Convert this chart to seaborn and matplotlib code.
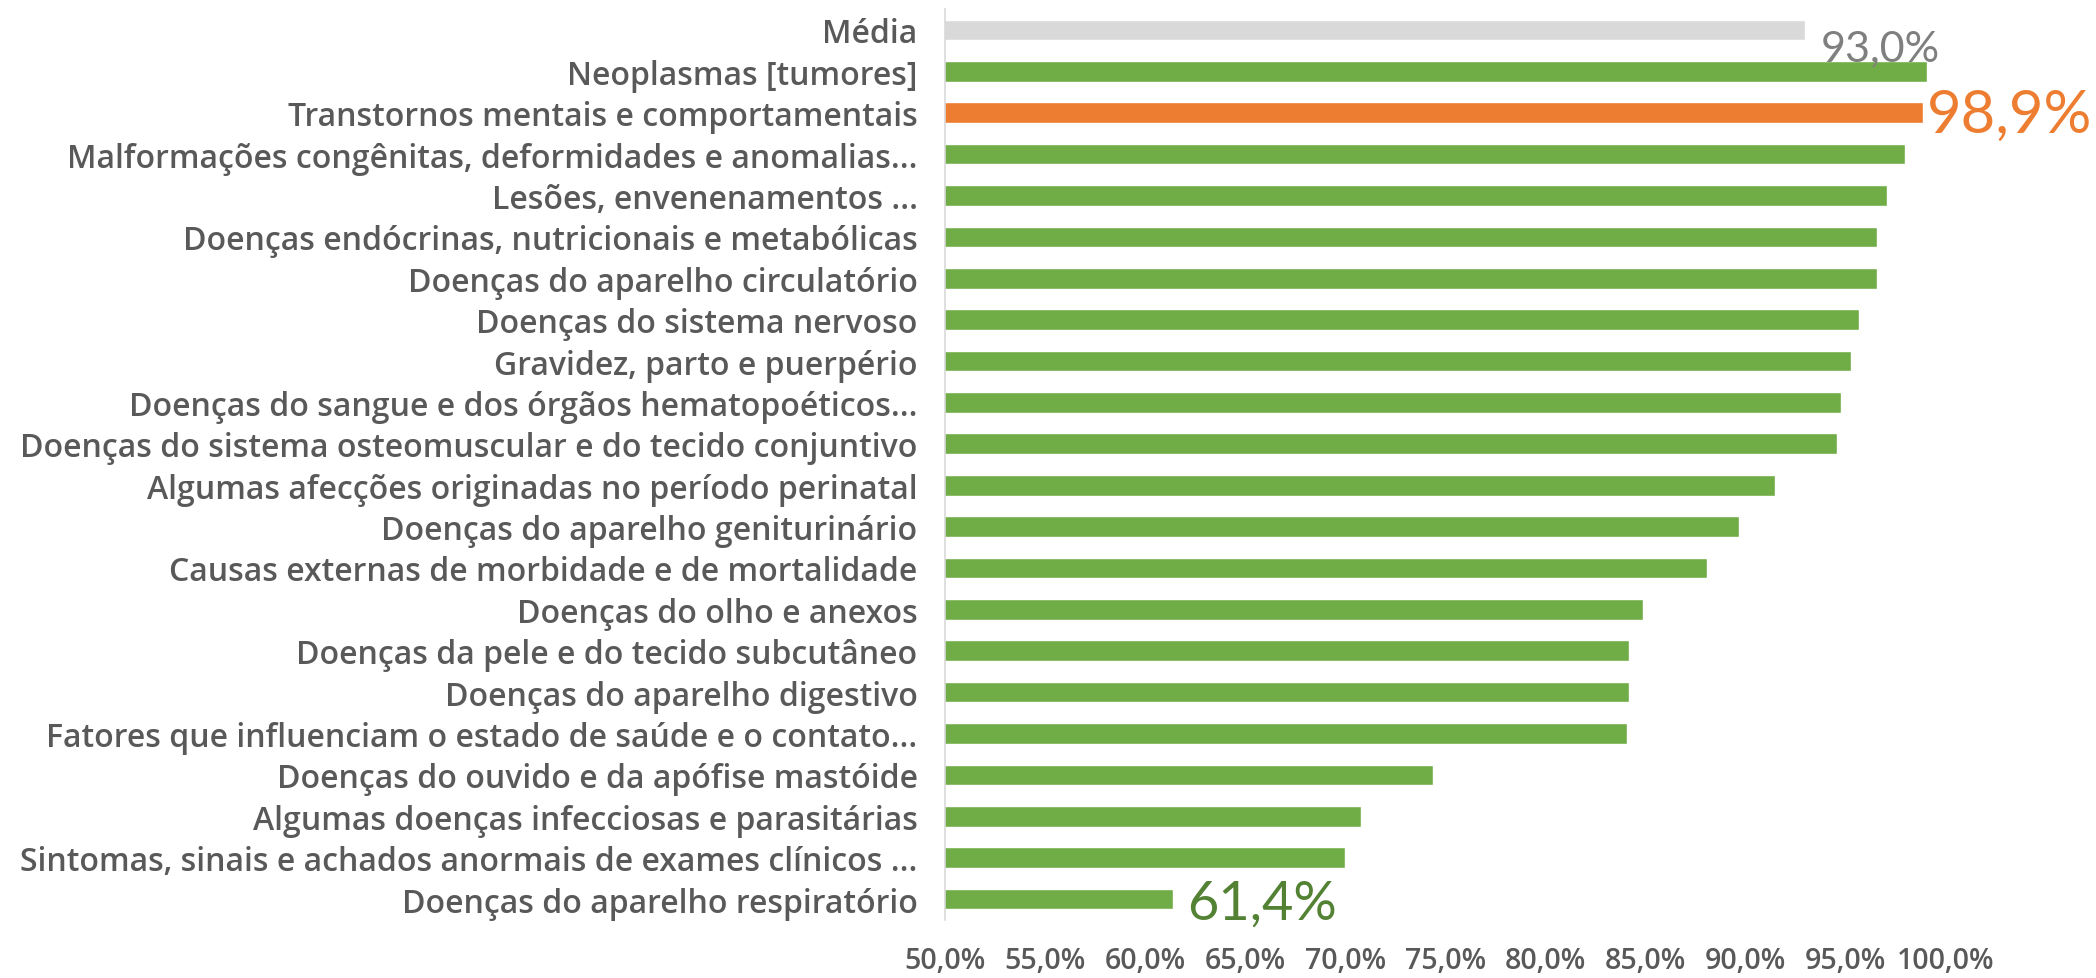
import matplotlib
matplotlib.use("Agg")
import matplotlib.pyplot as plt
import seaborn as sns
import pandas as pd
from matplotlib.ticker import FuncFormatter, MultipleLocator

categories = [
    "Média",
    "Neoplasmas [tumores]",
    "Transtornos mentais e comportamentais",
    "Malformações congênitas, deformidades e anomalias...",
    "Lesões, envenenamentos ...",
    "Doenças endócrinas, nutricionais e metabólicas",
    "Doenças do aparelho circulatório",
    "Doenças do sistema nervoso",
    "Gravidez, parto e puerpério",
    "Doenças do sangue e dos órgãos hematopoéticos...",
    "Doenças do sistema osteomuscular e do tecido conjuntivo",
    "Algumas afecções originadas no período perinatal",
    "Doenças do aparelho geniturinário",
    "Causas externas de morbidade e de mortalidade",
    "Doenças do olho e anexos",
    "Doenças da pele e do tecido subcutâneo",
    "Doenças do aparelho digestivo",
    "Fatores que influenciam o estado de saúde e o contato...",
    "Doenças do ouvido e da apófise mastóide",
    "Algumas doenças infecciosas e parasitárias",
    "Sintomas, sinais e achados anormais de exames clínicos ...",
    "Doenças do aparelho respiratório",
]
values = [93.0, 99.1, 98.9, 98.0, 97.1, 96.6, 96.6, 95.7, 95.3, 94.8, 94.6,
          91.5, 89.7, 88.1, 84.9, 84.2, 84.2, 84.1, 74.4, 70.8, 70.0, 61.4]

GREEN = "#70AD47"
ORANGE = "#ED7D31"
GRAY = "#D9D9D9"
colors = [GRAY, GREEN, ORANGE] + [GREEN] * (len(categories) - 3)

df = pd.DataFrame({"cat": categories, "val": values})

sns.set_theme(style="white")
plt.rcParams["font.family"] = ["Open Sans", "DejaVu Sans"]

fig = plt.figure(figsize=(20.96, 9.79), dpi=100)
ax = fig.add_axes([0.451, 0.0595, 0.477, 0.930])

sns.barplot(data=df, x="val", y="cat", hue="cat", palette=colors,
            legend=False, width=0.5, ax=ax, saturation=1)

ax.set_xlim(50, 100)
ax.set_ylim(len(categories) - 0.5, -0.5)
ax.xaxis.set_major_locator(MultipleLocator(5))
ax.xaxis.set_major_formatter(FuncFormatter(lambda v, p: f"{v:.1f}%".replace(".", ",")))
ax.set_xlabel("")
ax.set_ylabel("")

for s in ["top", "right", "bottom"]:
    ax.spines[s].set_visible(False)
ax.spines["left"].set_color("#D9D9D9")
ax.spines["left"].set_linewidth(1.2)

ax.tick_params(axis="y", length=0, pad=20, labelsize=23, labelcolor="#595959")
ax.tick_params(axis="x", length=0, pad=19, labelsize=20.5, labelcolor="#595959")
for lab in ax.get_yticklabels() + ax.get_xticklabels():
    lab.set_fontweight("semibold")

# value labels
ax.text(values[0] + 0.8, 0 + 0.45, f"{values[0]:.1f}%".replace(".", ","),
        color="#7F7F7F", fontsize=31, va="center", ha="left",
        family=["Lato", "DejaVu Sans"])
ax.text(values[2] + 0.2, 2.05, f"{values[2]:.1f}%".replace(".", ","),
        color=ORANGE, fontsize=43, va="center", ha="left",
        family=["Lato", "DejaVu Sans"])
ax.text(values[-1] + 0.7, len(categories) - 0.9, f"{values[-1]:.1f}%".replace(".", ","),
        color="#548235", fontsize=39, va="center", ha="left",
        family=["Lato", "DejaVu Sans"])

fig.savefig("out.png", dpi=100)
